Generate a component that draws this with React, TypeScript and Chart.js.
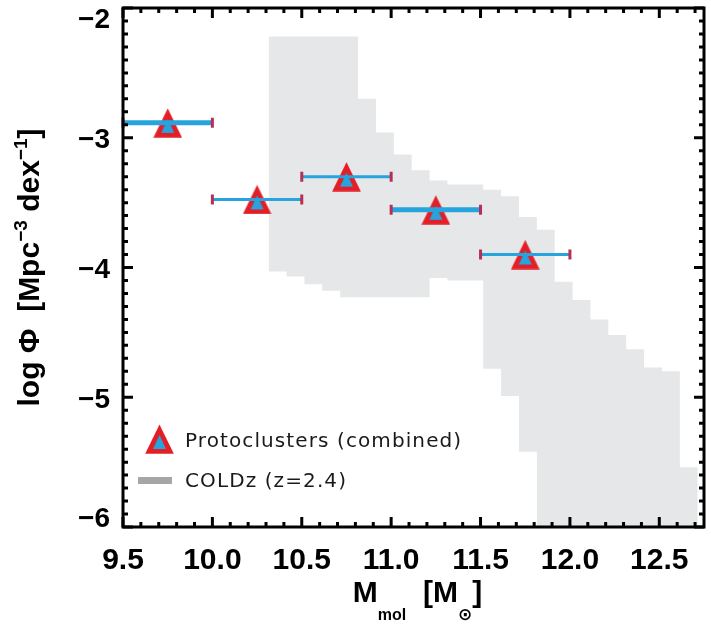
import React, { useEffect, useRef } from 'react';
import { Chart, registerables } from 'chart.js';

Chart.register(...registerables);

// ---- data ----
const massBins = [9.75, 10.25, 10.75, 11.25, 11.75];
const logPhi = [-2.885, -3.475, -3.3, -3.555, -3.9];
const binLow = [9.5, 10.0, 10.5, 11.0, 11.5];
const binHigh = [10.0, 10.5, 11.0, 11.5, 12.0];

const coldzEdges = [
  10.315, 10.415, 10.515, 10.615, 10.715, 10.815, 10.915, 11.015, 11.115, 11.215,
  11.315, 11.415, 11.515, 11.615, 11.715, 11.815, 11.915, 12.015, 12.115, 12.215,
  12.315, 12.415, 12.515, 12.615, 12.715,
];
const coldzUpper = [
  -2.22, -2.22, -2.22, -2.22, -2.22, -2.7, -2.96, -3.13, -3.25, -3.33, -3.36, -3.36,
  -3.4, -3.45, -3.61, -3.71, -4.11, -4.25, -4.4, -4.52, -4.63, -4.77, -4.8, -5.54,
];
const coldzLower = [
  -4.03, -4.07, -4.13, -4.18, -4.23, -4.23, -4.23, -4.23, -4.23, -4.08, -4.1, -4.1,
  -4.78, -4.99, -5.42, -6.0, -6.0, -6.0, -6.0, -6.0, -6.0, -6.0, -6.0, -6.0,
];

const xTickValues = [9.5, 10.0, 10.5, 11.0, 11.5, 12.0, 12.5];
const xTickLabels = ['9.5', '10.0', '10.5', '11.0', '11.5', '12.0', '12.5'];
const yTickValues = [-2, -3, -4, -5, -6];
const yTickLabels = ['\u22122', '\u22123', '\u22124', '\u22125', '\u22126'];
const legendLabels = ['Protoclusters (combined)', 'COLDz (z=2.4)'];

// ---- styles ----
const RED = '#E31E26';
const BLUE = '#27A3DD';
const CAP = '#B82F55';
const BAND = '#E6E7E8';
const BAND_LEGEND = '#A6A6A6';
const FONT = "'Liberation Sans', Arial, Helvetica, sans-serif";
const LEGEND_FONT = "'DejaVu Sans', sans-serif";
const ERR_WIDTHS = [5, 3, 3, 5, 3];

function makeTriangle(): HTMLCanvasElement {
  const c = document.createElement('canvas');
  c.width = 29;
  c.height = 30;
  const g = c.getContext('2d')!;
  g.fillStyle = RED;
  g.beginPath();
  g.moveTo(14.5, 0.5);
  g.lineTo(28.8, 29.8);
  g.lineTo(0.2, 29.8);
  g.closePath();
  g.fill();
  g.fillStyle = BLUE;
  g.beginPath();
  g.moveTo(14.5, 11);
  g.lineTo(21, 25);
  g.lineTo(8, 25);
  g.closePath();
  g.fill();
  return c;
}

type Part = { t: string; font: string; dy: number };

function drawRich(ctx: CanvasRenderingContext2D, parts: Part[], cx: number, by: number) {
  let total = 0;
  const widths = parts.map((p) => {
    ctx.font = p.font;
    const w = ctx.measureText(p.t).width;
    total += w;
    return w;
  });
  let x = cx - total / 2;
  ctx.textAlign = 'left';
  ctx.textBaseline = 'alphabetic';
  parts.forEach((p, i) => {
    ctx.font = p.font;
    ctx.fillText(p.t, x, by + p.dy);
    x += widths[i];
  });
}

export default function App() {
  const ref = useRef<HTMLCanvasElement>(null);

  useEffect(() => {
    document.body.style.margin = '0';
    const canvas = ref.current!;
    const tri = makeTriangle();

    const framePlugin = {
      id: 'frame',
      afterDatasetsDraw(chart: any) {
        const { ctx, scales } = chart;
        const x = scales.x;
        const y = scales.y;
        ctx.save();
        massBins.forEach((m, i) => {
          const py = y.getPixelForValue(logPhi[i]);
          const x0 = x.getPixelForValue(binLow[i]);
          const x1 = x.getPixelForValue(binHigh[i]);
          ctx.strokeStyle = BLUE;
          ctx.lineWidth = ERR_WIDTHS[i];
          ctx.beginPath();
          ctx.moveTo(x0, py);
          ctx.lineTo(x1, py);
          ctx.stroke();
          ctx.strokeStyle = CAP;
          ctx.lineWidth = 3;
          ctx.beginPath();
          ctx.moveTo(x0, py - 5);
          ctx.lineTo(x0, py + 5);
          ctx.moveTo(x1, py - 5);
          ctx.lineTo(x1, py + 5);
          ctx.stroke();
        });
        ctx.restore();
      },
      afterDraw(chart: any) {
        const { ctx, chartArea: a, scales } = chart;
        const x = scales.x;
        const y = scales.y;
        ctx.save();
        // ticks
        ctx.strokeStyle = '#000';
        ctx.lineWidth = 3;
        ctx.beginPath();
        for (let k = 95; k <= 127; k++) {
          const px = x.getPixelForValue(k / 10);
          const len = k % 5 === 0 ? 10 : 5;
          ctx.moveTo(px, a.bottom);
          ctx.lineTo(px, a.bottom - len);
          ctx.moveTo(px, a.top);
          ctx.lineTo(px, a.top + len);
        }
        for (let k = -60; k <= -20; k++) {
          const py = y.getPixelForValue(k / 10);
          const len = k % 10 === 0 ? 10 : 5;
          ctx.moveTo(a.left, py);
          ctx.lineTo(a.left + len, py);
          ctx.moveTo(a.right, py);
          ctx.lineTo(a.right - len, py);
        }
        ctx.stroke();
        // frame
        ctx.lineWidth = 3;
        ctx.strokeRect(a.left, a.top, a.right - a.left, a.bottom - a.top);

        // y tick labels
        ctx.fillStyle = '#000';
        ctx.font = `bold 28px ${FONT}`;
        ctx.textAlign = 'right';
        ctx.textBaseline = 'middle';
        yTickValues.forEach((v, i) => {
          let py = y.getPixelForValue(v) + 3;
          py = Math.min(Math.max(py, a.top + 12), a.bottom - 8);
          ctx.fillText(yTickLabels[i], a.left - 13, py);
        });

        // y title
        const big = `bold 30px ${FONT}`;
        const sup = `bold 19px ${FONT}`;
        ctx.save();
        ctx.translate(39, (a.top + a.bottom) / 2);
        ctx.rotate(-Math.PI / 2);
        drawRich(
          ctx,
          [
            { t: 'log \u03A6  [Mpc', font: big, dy: 0 },
            { t: '\u22123', font: sup, dy: -12 },
            { t: ' dex', font: big, dy: 0 },
            { t: '\u22121', font: sup, dy: -12 },
            { t: ']', font: big, dy: 0 },
          ],
          0,
          0
        );
        ctx.restore();

        // x title
        drawRich(
          ctx,
          [
            { t: 'M', font: big, dy: 0 },
            { t: 'mol', font: `bold 16px ${FONT}`, dy: 18 },
            { t: '  [M', font: big, dy: 0 },
            { t: '\u2299', font: `bold 17px 'DejaVu Sans', sans-serif`, dy: 18 },
            { t: ']', font: big, dy: 0 },
          ],
          (a.left + a.right) / 2 + 4,
          602
        );

        // legend
        ctx.drawImage(tri, 159.5 - tri.width / 2, 439 - tri.height / 2);
        ctx.fillStyle = BAND_LEGEND;
        ctx.fillRect(138, 477, 34, 7);
        ctx.fillStyle = '#1a1a1a';
        ctx.font = `normal 20px ${LEGEND_FONT}`;
        (ctx as any).letterSpacing = '1.1px';
        ctx.textAlign = 'left';
        ctx.textBaseline = 'alphabetic';
        ctx.fillText(legendLabels[0], 185, 447);
        ctx.fillText(legendLabels[1], 185, 487);
        ctx.restore();
      },
    };

    const chart = new Chart(canvas, {
      type: 'scatter',
      data: {
        datasets: [
          {
            label: legendLabels[0],
            data: massBins.map((m, i) => ({ x: m, y: logPhi[i] })),
            pointStyle: tri as any,
            pointRadius: 15,
            showLine: false,
          },
          {
            label: legendLabels[1],
            type: 'line',
            data: coldzEdges.map((e, i) => ({ x: e, y: coldzUpper[Math.min(i, coldzUpper.length - 1)] })),
            stepped: true,
            fill: '+1',
            backgroundColor: BAND,
            borderColor: 'rgba(0,0,0,0)',
            borderWidth: 0,
            pointRadius: 0,
          } as any,
          {
            label: 'COLDz lower',
            type: 'line',
            data: coldzEdges.map((e, i) => ({ x: e, y: coldzLower[Math.min(i, coldzLower.length - 1)] })),
            stepped: true,
            fill: false,
            borderColor: 'rgba(0,0,0,0)',
            borderWidth: 0,
            pointRadius: 0,
          } as any,
        ],
      },
      options: {
        responsive: false,
        animation: false,
        devicePixelRatio: 1,
        events: [],
        layout: { autoPadding: false, padding: { top: 8, right: 7, left: 0, bottom: 0 } },
        plugins: {
          legend: { display: false },
          tooltip: { enabled: false },
        },
        scales: {
          x: {
            type: 'linear',
            min: 9.5,
            max: 12.75,
            afterBuildTicks: (s: any) => {
              s.ticks = xTickValues.map((v) => ({ value: v }));
            },
            afterFit: (s: any) => {
              s.height = 98;
            },
            ticks: {
              callback: (_v: any, i: number) => xTickLabels[i],
              font: { family: FONT, size: 30, weight: 'bold' },
              color: '#000',
              padding: 16,
              maxRotation: 0,
              autoSkip: false,
            },
            grid: { display: false, drawTicks: false },
            border: { display: false },
          },
          y: {
            type: 'linear',
            min: -6,
            max: -2,
            afterFit: (s: any) => {
              s.width = 123;
            },
            ticks: { display: false },
            grid: { display: false, drawTicks: false },
            border: { display: false },
          },
        },
      } as any,
      plugins: [framePlugin],
    });
    return () => chart.destroy();
  }, []);

  return <canvas ref={ref} width={711} height={625} style={{ display: 'block' }} />;
}
